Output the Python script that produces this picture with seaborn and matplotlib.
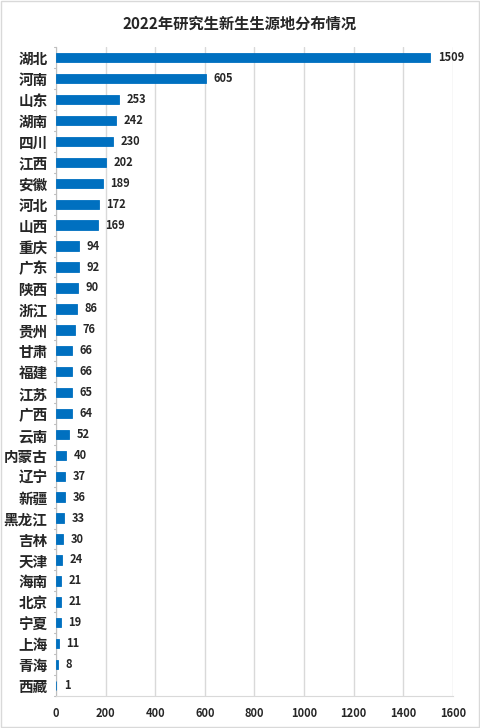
import matplotlib
matplotlib.use('Agg')
import matplotlib.pyplot as plt
import seaborn as sns
import pandas as pd

provinces = ['湖北', '河南', '山东', '湖南', '四川', '江西', '安徽', '河北', '山西', '重庆',
             '广东', '陕西', '浙江', '贵州', '甘肃', '福建', '江苏', '广西', '云南', '内蒙古',
             '辽宁', '新疆', '黑龙江', '吉林', '天津', '海南', '北京', '宁夏', '上海', '青海', '西藏']
counts = [1509, 605, 253, 242, 230, 202, 189, 172, 169, 94,
          92, 90, 86, 76, 66, 66, 65, 64, 52, 40,
          37, 36, 33, 30, 24, 21, 21, 19, 11, 8, 1]
x_ticks = [0, 200, 400, 600, 800, 1000, 1200, 1400, 1600]
title = '2022年研究生新生生源地分布情况'

sns.set_style('white')
plt.rcParams['font.family'] = ['Noto Sans CJK SC', 'DejaVu Sans']

df = pd.DataFrame({'省份': provinces, '人数': counts})

fig = plt.figure(figsize=(4.8, 7.28), dpi=100)
ax = fig.add_axes([0.1167, 0.044, 0.827, 0.891])
sns.barplot(data=df, x='人数', y='省份', color='#0070C0', saturation=1,
            width=0.45, edgecolor='#0070C0', linewidth=0.6, ax=ax, zorder=3)

ax.set_xlim(0, 1600)
ax.set_xticks(x_ticks)
ax.set_xticklabels([str(t) for t in x_ticks], fontsize=8, fontweight='bold')
ax.grid(axis='x', color='#D9D9D9', linewidth=1, zorder=0)
ax.set_xlabel('')
ax.set_ylabel('')
ax.tick_params(axis='x', length=0, pad=8)
ax.tick_params(axis='y', length=0, pad=6)
for lab in ax.get_yticklabels():
    lab.set_fontsize(10.5)
    lab.set_fontweight('bold')

# y轴分隔刻度
for i in range(len(provinces) + 1):
    ax.plot([-0.006, 0], [i - 0.5, i - 0.5], transform=ax.get_yaxis_transform(),
            color='#BFBFBF', linewidth=0.8, clip_on=False)

for s in ['top', 'right']:
    ax.spines[s].set_visible(False)
ax.spines['left'].set_color('#BFBFBF')
ax.spines['bottom'].set_color('#D9D9D9')
ax.set_ylim(len(provinces) - 0.5, -0.5)

for i, v in enumerate(counts):
    ax.text(v + 30, i, str(v), va='center', ha='left', fontsize=8, fontweight='bold')

fig.text(0.5, 0.968, title, ha='center', va='center', fontsize=11, fontweight='bold')

# 外框
fig.patches.append(plt.Rectangle((0.002, 0.002), 0.996, 0.996, transform=fig.transFigure,
                                 fill=False, edgecolor='#D9D9D9', linewidth=1))

fig.savefig('out.png', dpi=100)
